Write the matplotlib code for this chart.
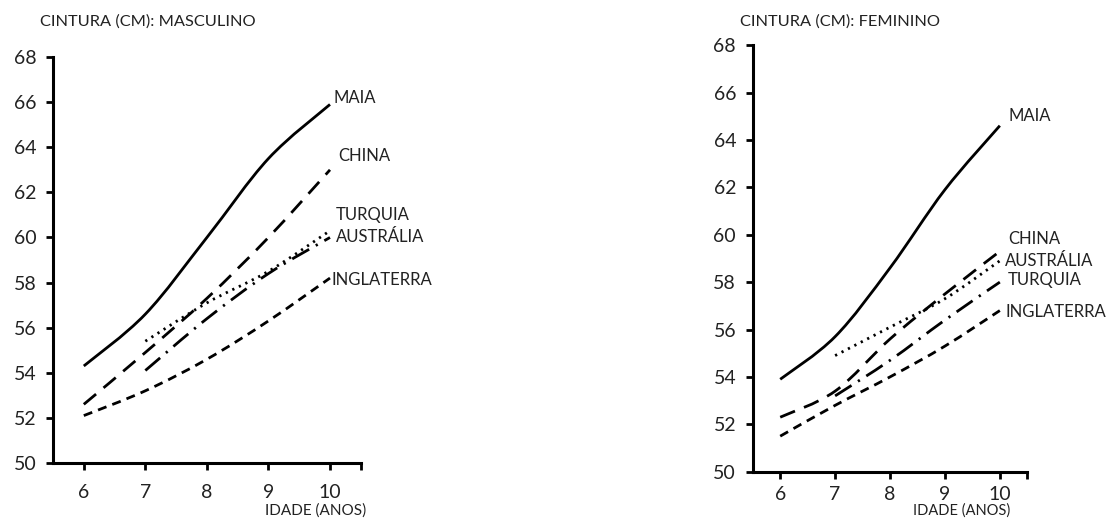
import numpy as np
import matplotlib.pyplot as plt
from matplotlib.path import Path
from matplotlib.patches import PathPatch

plt.rcParams['font.family'] = ['Lato', 'DejaVu Sans']
plt.rcParams['lines.scale_dashes'] = False

# data
idade = [6, 7, 8, 9, 10]
y_ticks = [50, 52, 54, 56, 58, 60, 62, 64, 66, 68]

maia_m = [54.3, 56.6, 60.0, 63.5, 65.9]
china_m = [52.6, 54.9, 57.3, 60.0, 63.0]
turquia_m = [None, 55.4, 57.1, 58.5, 60.3]
australia_m = [None, 54.1, 56.4, 58.4, 60.0]
inglaterra_m = [52.1, 53.2, 54.6, 56.3, 58.2]

maia_f = [53.9, 55.7, 58.6, 61.9, 64.6]
china_f = [52.3, 53.4, 55.6, 57.5, 59.3]
australia_f = [None, 54.9, 56.1, 57.3, 58.9]
turquia_f = [None, 53.2, 54.7, 56.4, 58.0]
inglaterra_f = [51.5, 52.8, 54.0, 55.3, 56.8]

SOLID = '-'
LONG = (0, (11.5, 7))
SHORT = (0, (6.5, 4.5))
DOTS = (0, (1.6, 3.6))
DASHDOT = (0, (14, 5.5, 1.6, 5.5))


def smooth_path(xs, ys):
    # bezier curve through the points (catmull-rom style, like excel smoothing)
    pts = [(x, y) for x, y in zip(xs, ys) if y is not None]
    p = np.array(pts, dtype=float)
    n = len(p)
    verts = [p[0]]
    codes = [Path.MOVETO]
    for i in range(n - 1):
        p0 = p[i - 1] if i > 0 else p[i]
        p3 = p[i + 2] if i + 2 < n else p[i + 1]
        c1 = p[i] + (p[i + 1] - p0) / 6
        c2 = p[i + 1] - (p3 - p[i]) / 6
        verts += [c1, c2, p[i + 1]]
        codes += [Path.CURVE4] * 3
    return Path(verts, codes)


def draw(ax, series, labels, xpad):
    for ys, ls in series:
        ax.add_patch(PathPatch(smooth_path(idade, ys), fill=False, lw=2.0,
                               ls=ls, ec='black', capstyle='butt'))
    for txt, yv, ox in labels:
        ax.text(10.05 + ox, yv, txt, fontsize=12, color='#222222', va='center', ha='left')
    ax.set_xlim(5.5, 10.5)
    ax.set_ylim(50, 68)
    ax.set_xticks(idade + [10.5])
    ax.set_xticklabels([str(v) for v in idade] + [''])
    ax.set_yticks(y_ticks)
    ax.spines['top'].set_visible(False)
    ax.spines['right'].set_visible(False)
    ax.spines['left'].set_linewidth(2.2)
    ax.spines['bottom'].set_linewidth(2.2)
    ax.tick_params(axis='both', labelsize=14, width=2, length=5, colors='black',
                   labelcolor='#222222')
    ax.tick_params(axis='x', pad=xpad)
    ax.tick_params(axis='y', pad=7)
    ax.patch.set_alpha(0)


fig = plt.figure(figsize=(11.07, 5.19), dpi=100)

ax1 = fig.add_axes([0.0479, 0.108, 0.278, 0.782])
draw(ax1,
     [(maia_m, SOLID), (china_m, LONG), (turquia_m, DOTS),
      (australia_m, DASHDOT), (inglaterra_m, SHORT)],
     [('MAIA', 66.2, 0.0), ('CHINA', 63.6, 0.08), ('TURQUIA', 61.0, 0.04),
      ('AUSTRÁLIA', 60.0, 0.04), ('INGLATERRA', 58.1, -0.02)], 10)

ax2 = fig.add_axes([0.680, 0.0911, 0.248, 0.822])
draw(ax2,
     [(maia_f, SOLID), (china_f, LONG), (australia_f, DOTS),
      (turquia_f, DASHDOT), (inglaterra_f, SHORT)],
     [('MAIA', 65.0, 0.1), ('CHINA', 59.8, 0.1), ('AUSTRÁLIA', 58.9, 0.05),
      ('TURQUIA', 58.1, 0.1), ('INGLATERRA', 56.75, 0.05)], 5)

fig.text(40 / 1107, 1 - 22 / 519, 'CINTURA (CM): MASCULINO', fontsize=11.8,
         color='#222222', va='center', ha='left')
fig.text(740 / 1107, 1 - 22 / 519, 'CINTURA (CM): FEMININO', fontsize=11.8,
         color='#222222', va='center', ha='left')
fig.text(265 / 1107, 1 / 519, 'IDADE (ANOS)', fontsize=11,
         color='#222222', va='bottom', ha='left')
fig.text(913 / 1107, 1 / 519, 'IDADE (ANOS)', fontsize=10.5,
         color='#222222', va='bottom', ha='left')

fig.savefig('out.png', dpi=100)
